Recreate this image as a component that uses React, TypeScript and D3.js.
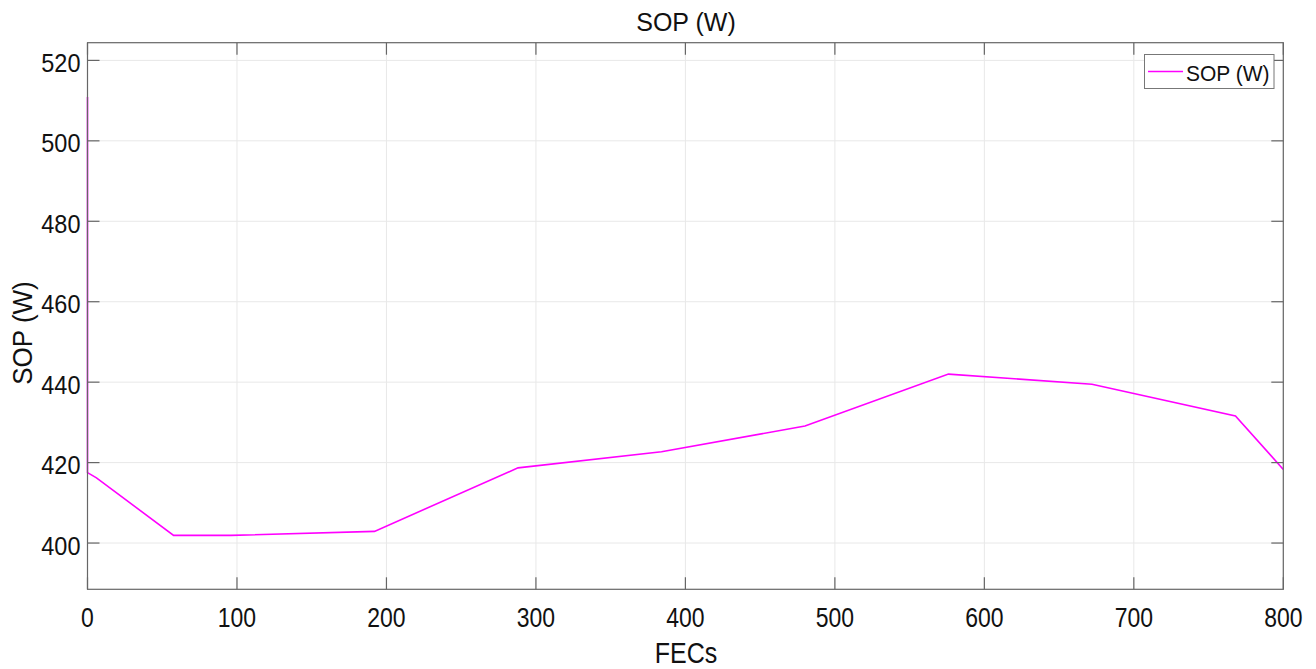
import React from "react";
import * as d3 from "d3";

const fecs = [0, 0, 6, 57.6, 96, 192, 288, 384, 480, 576, 672, 768, 800];
const sop = [510.9, 417.5, 416.2, 401.9, 401.9, 402.9, 418.7, 422.7, 429.1, 442.0, 439.5, 431.6, 418.3];
const xTicks = [0, 100, 200, 300, 400, 500, 600, 700, 800];
const yTicks = [400, 420, 440, 460, 480, 500, 520];
const seriesName = "SOP (W)";
const titleText = "SOP (W)";
const xLabel = "FECs";
const yLabel = "SOP (W)";

function T(props: { x: number; y: number; size: number; sy?: number; anchor?: string; rot?: number; children: any }) {
  const { x, y, size, sy = 1.1, anchor = "middle", rot = 0, children } = props;
  return (
    <text
      transform={`translate(${x},${y}) rotate(${rot}) scale(1,${sy})`}
      textAnchor={anchor as any}
      fontSize={size}
      fill="#111"
    >
      {children}
    </text>
  );
}

export default function App() {
  const W = 1316, H = 669;
  const left = 87.5, right = 1283.3, top = 42.7, bottom = 589.3;
  const x = d3.scaleLinear().domain([0, 800]).range([left, right]);
  const y = d3.scaleLinear().domain([388.5, 524.4]).range([bottom, top]);
  const line = d3.line<number>().x((_, i) => x(fecs[i])).y((d) => y(d));
  const font = "'Liberation Sans', Arial, Helvetica, sans-serif";
  const axisColor = "#666";
  const gridColor = "#e8e8e8";
  const tickLen = 12;
  return (
    <svg width={W} height={H} style={{ position: "absolute", left: 0, top: 0, background: "#fff" }} fontFamily={font}>
      <rect x={0} y={0} width={W} height={H} fill="#fff" />
      {xTicks.map((t) => (
        <line key={"gx" + t} x1={x(t)} x2={x(t)} y1={top} y2={bottom} stroke={gridColor} strokeWidth={1} />
      ))}
      {yTicks.map((t) => (
        <line key={"gy" + t} x1={left} x2={right} y1={y(t)} y2={y(t)} stroke={gridColor} strokeWidth={1} />
      ))}
      <path d={line(sop) || ""} fill="none" stroke="#ff00ff" strokeWidth={1.6} />
      <rect x={left} y={top} width={right - left} height={bottom - top} fill="none" stroke={axisColor} strokeWidth={1.2} />
      {xTicks.map((t) => (
        <g key={"tx" + t}>
          <line x1={x(t)} x2={x(t)} y1={bottom} y2={bottom - tickLen} stroke={axisColor} strokeWidth={1.2} />
          <line x1={x(t)} x2={x(t)} y1={top} y2={top + tickLen} stroke={axisColor} strokeWidth={1.2} />
          <T x={x(t)} y={bottom + 38} size={23} sy={1.18}>{t}</T>
        </g>
      ))}
      {yTicks.map((t) => (
        <g key={"ty" + t}>
          <line x1={left} x2={left + tickLen} y1={y(t)} y2={y(t)} stroke={axisColor} strokeWidth={1.2} />
          <line x1={right} x2={right - tickLen} y1={y(t)} y2={y(t)} stroke={axisColor} strokeWidth={1.2} />
          <T x={left - 7} y={y(t) + 11.5} size={23.5} sy={1.1} anchor="end">{t}</T>
        </g>
      ))}
      <T x={686} y={31} size={25} sy={1.05}>{titleText}</T>
      <T x={686} y={663} size={25} sy={1.15}>{xLabel}</T>
      <T x={32} y={333} size={26} sy={1.05} rot={-90}>{yLabel}</T>
      <g>
        <rect x={1144.5} y={54.5} width={129.5} height={34} fill="#fff" stroke="#777" strokeWidth={1} />
        <line x1={1148} x2={1183} y1={71.5} y2={71.5} stroke="#ff00ff" strokeWidth={1.6} />
        <T x={1186} y={80.7} size={21} sy={1.05} anchor="start">{seriesName}</T>
      </g>
    </svg>
  );
}
